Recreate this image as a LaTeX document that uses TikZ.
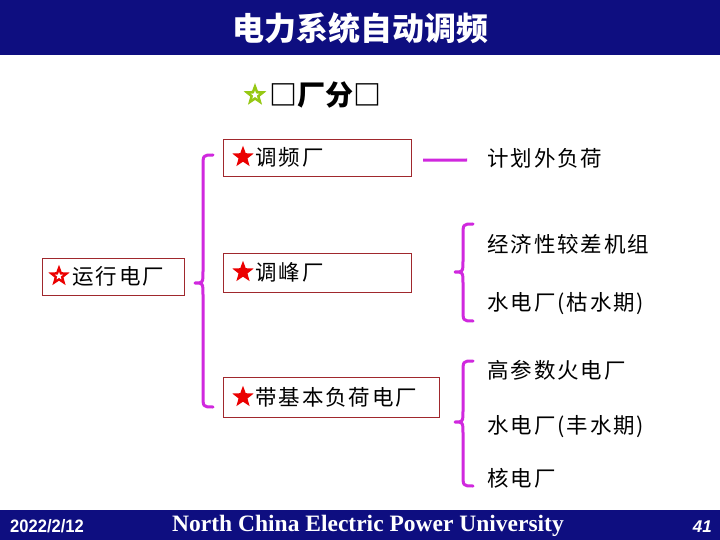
\documentclass[tikz,border=0pt]{standalone}
\usepackage{fontspec}
\usetikzlibrary{shapes.geometric}
\newfontfamily\cjk{Noto Sans CJK SC}
\newfontfamily\cjkls[LetterSpace=9]{Noto Sans CJK SC}
\newfontfamily\serifen{Liberation Serif}
\newfontfamily\sansen{Liberation Sans}
\definecolor{navy}{RGB}{14,14,128}
\definecolor{brmag}{RGB}{208,40,222}
\definecolor{boxred}{RGB}{160,40,45}
\definecolor{starred}{RGB}{235,0,0}
\definecolor{stargreen}{RGB}{150,200,20}
\newcommand\mybrace[6]{%
  \draw[brace] (#1,#4) .. controls (#2,#4) .. (#2,{#4+12}) -- (#2,{#5-12})
    .. controls (#2,#5) .. (#3,#5) .. controls (#2,#5) .. (#2,{#5+12})
    -- (#2,{#6-12}) .. controls (#2,#6) .. (#1,#6);}
\tikzset{
  box/.style={draw=boxred, line width=1.2pt, fill=white, anchor=north west, inner sep=0pt},
  lbl/.style={anchor=west, inner sep=0pt, font=\cjkls\fontsize{21.5}{21.5}\selectfont},
  rstar/.style={star, star points=5, star point ratio=2.4, fill=starred, minimum size=22.5pt, inner sep=0pt},
  wstar/.style={star, star points=5, star point ratio=2.4, fill=white, minimum size=8.5pt, inner sep=0pt},
  brace/.style={draw=brmag, line width=3pt, line cap=round, line join=round},
  link/.style={draw=brmag, line width=3pt}
}
\begin{document}
\begin{tikzpicture}[x=1pt,y=-1pt]
\useasboundingbox (0,0) rectangle (720,540);
\fill[white] (0,0) rectangle (720,540);
% banners
\fill[navy] (0,0) rectangle (720,55);
\fill[navy] (0,510) rectangle (720,540);
\node[text=white, font=\cjk\bfseries\fontsize{32}{32}\selectfont] (title) at (360,28) {电力系统自动调频};
\node[text=white, font=\sansen\bfseries\fontsize{18}{18}\selectfont, anchor=west, inner sep=0pt] (date) at (10,526) {\scalebox{0.92}[1]{2022/2/12}};
\node[text=white, font=\serifen\bfseries\fontsize{23.5}{23.5}\selectfont] (univ) at (368,526) {North China Electric Power University};
\node[text=white, font=\sansen\bfseries\itshape\fontsize{17}{17}\selectfont, anchor=east, inner sep=0pt] (page) at (712,527) {41};
% heading
\node[star, star points=5, star point ratio=2.4, fill=stargreen, minimum size=24pt, inner sep=0pt] (hs) at (255,95) {};
\node[wstar, minimum size=9pt] at (hs.center) {};
\node[anchor=west, inner sep=0pt, font=\cjk\bfseries\fontsize{28}{28}\selectfont] (head) at (269,95) {□厂分□};
% boxes
\node[box, minimum width=142pt, minimum height=37pt] (run) at (42,258) {};
\node[rstar] (s0) at (59,276) {};
\node[wstar] at (s0.center) {};
\node[lbl] (runt) at (72,276) {运行电厂};
\node[box, minimum width=188pt, minimum height=37pt] (fm) at (223,139) {};
\node[rstar] (s1) at (243,157) {};
\node[lbl] (fmt) at (255,157) {调频厂};
\node[box, minimum width=188pt, minimum height=39pt] (pk) at (223,253) {};
\node[rstar] (s2) at (243,272) {};
\node[lbl] (pkt) at (255,272) {调峰厂};
\node[box, minimum width=216pt, minimum height=40pt] (bs) at (223,377) {};
\node[rstar] (s3) at (243,397) {};
\node[lbl] (bst) at (255,397) {带基本负荷电厂};
% right texts
\node[lbl] (plan) at (487,158) {计划外负荷};
\node[lbl] (t1) at (487,244) {经济性较差机组};
\node[lbl] (t2) at (487,304) {水电厂(枯水期)};
\node[lbl] (t3) at (487,370) {高参数火电厂};
\node[lbl] (t4) at (487,427) {水电厂(丰水期)};
\node[lbl] (t5) at (487,478) {核电厂};
% connectors
\draw[link] ([xshift=11pt,yshift=-2pt]fm.east) -- ([xshift=-20pt,yshift=-2pt]plan.west);
\mybrace{213}{203}{195}{155}{283}{407}
\mybrace{473}{463}{455}{224}{272}{321}
\mybrace{473}{463}{455}{361}{422}{486}
\end{tikzpicture}
\end{document}
